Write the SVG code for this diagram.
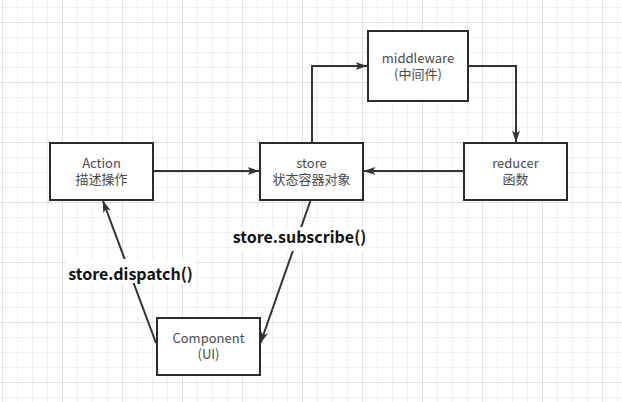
<svg xmlns="http://www.w3.org/2000/svg" width="622" height="402" viewBox="0 0 622 402">
<defs>
<pattern id="minor" x="2" y="7" width="15" height="15" patternUnits="userSpaceOnUse">
<path d="M0.5,0 V15 M0,0.5 H15" stroke="#efefef" stroke-width="1" fill="none"/>
</pattern>
<pattern id="major" x="2" y="22" width="60" height="60" patternUnits="userSpaceOnUse">
<path d="M0.5,0 V60 M0,0.5 H60" stroke="#e0e0e0" stroke-width="1" fill="none"/>
</pattern>
<marker id="arr" viewBox="0 0 12 8" refX="11.5" refY="4" markerWidth="12" markerHeight="8" markerUnits="userSpaceOnUse" orient="auto">
<path d="M0,0 L12,4 L0,8 L3,4 Z" fill="#333"/>
</marker>
<style>
.node rect{fill:#fff;stroke:#2b2b2b;stroke-width:2}
.node text{font-family:"Noto Sans CJK SC","Liberation Sans",sans-serif;font-size:13px;fill:#4a4a4a;text-anchor:middle}
.conn path{fill:none;stroke:#333;stroke-width:2;marker-end:url(#arr)}
.lbl{font-family:"Noto Sans CJK SC","Liberation Sans",sans-serif;font-size:16px;font-weight:bold;fill:#111;text-anchor:middle}
</style>
</defs>
<rect width="622" height="402" fill="#fff"/>
<rect width="622" height="402" fill="url(#minor)"/>
<rect width="622" height="402" fill="url(#major)"/>

<g id="connectors" class="conn">
<path d="M153,171 H259"/>
<path d="M312,143 V66 H367"/>
<path d="M468,66 H516 V142"/>
<path d="M464,171 H364"/>
<path d="M310.7,200 L260.5,343"/>
<path d="M156,343 L103,201"/>
</g>

<g id="label-subscribe">
<rect x="231" y="227" width="138" height="24" fill="#fff"/>
<text class="lbl" x="299.5" y="243">store.subscribe()</text>
</g>
<g id="label-dispatch">
<rect x="66" y="259" width="129" height="24" fill="#fff"/>
<text class="lbl" x="130.5" y="280">store.dispatch()</text>
</g>

<g id="node-action" class="node">
<rect x="50" y="143" width="103" height="57"/>
<text x="101.5" y="168">Action</text>
<text x="101.5" y="184">描述操作</text>
</g>
<g id="node-store" class="node">
<rect x="260" y="143" width="103" height="57"/>
<text x="311.5" y="168">store</text>
<text x="311.5" y="184">状态容器对象</text>
</g>
<g id="node-middleware" class="node">
<rect x="368" y="31" width="100" height="70"/>
<text x="418" y="63">middleware</text>
<text x="418" y="79">(中间件)</text>
</g>
<g id="node-reducer" class="node">
<rect x="464" y="143" width="103" height="57"/>
<text x="515.5" y="168">reducer</text>
<text x="515.5" y="184">函数</text>
</g>
<g id="node-component" class="node">
<rect x="157" y="318" width="103" height="57"/>
<text x="208.5" y="343">Component</text>
<text x="208.5" y="359">(UI)</text>
</g>
</svg>
